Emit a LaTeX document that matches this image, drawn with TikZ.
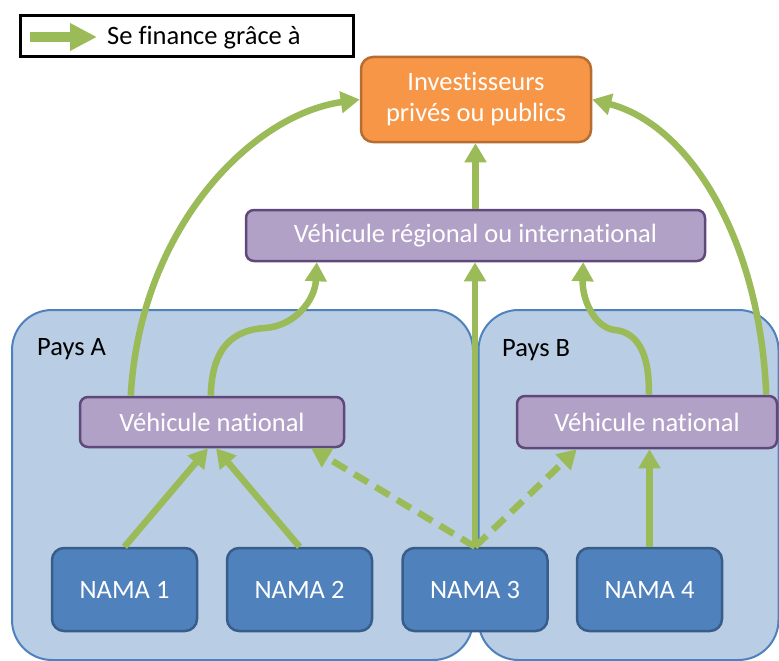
\documentclass[tikz,border=0pt]{standalone}
\usepackage{fontspec}
\setmainfont[Ligatures=CommonOff]{Carlito}
\usetikzlibrary{arrows.meta,calc}

\definecolor{flowgreen}{HTML}{9BBB59}
\definecolor{investfill}{HTML}{F79646}
\definecolor{investline}{HTML}{B66D31}
\definecolor{vehfill}{HTML}{B2A1C7}
\definecolor{vehline}{HTML}{5F497A}
\definecolor{namafill}{HTML}{4F81BD}
\definecolor{namaline}{HTML}{385D8A}
\definecolor{paysfill}{HTML}{B9CDE5}
\definecolor{paysline}{HTML}{4F81BD}

\tikzset{
  labelfont/.style={font=\fontsize{26.5}{31}\selectfont},
  box/.style={labelfont, text=white, inner sep=0pt, align=center, line width=2.5pt},
  investbox/.style={box, fill=investfill, draw=investline, rounded corners=12pt,
    minimum width=230pt, minimum height=85pt},
  vehbox/.style={box, fill=vehfill, draw=vehline, rounded corners=8pt, minimum height=51pt},
  namabox/.style={box, fill=namafill, draw=namaline, rounded corners=12pt,
    minimum width=145pt, minimum height=83pt},
  country/.style={fill=paysfill, draw=paysline, line width=2pt, rounded corners=40pt},
  flow/.style={draw=flowgreen, line width=6.5pt,
    -{Triangle[width=21pt,length=19pt]}, fill=none},
  optflow/.style={flow, dash pattern=on 16pt off 9pt},
  legarrow/.style={draw=flowgreen, line width=10pt,
    -{Triangle[width=26pt,length=27pt]}},
}

\begin{document}
\begin{tikzpicture}[x=1pt,y=-1pt]
  \useasboundingbox (0,0) rectangle (779,661);

  % countries
  \draw[country] (12,310) rectangle (473,660);
  \draw[country] (478.5,310) rectangle (778.5,660);
  \node[labelfont, anchor=base west, inner sep=0pt] (paysA) at (37,355) {Pays A};
  \node[labelfont, anchor=base west, inner sep=0pt] (paysB) at (502,356) {Pays B};

  % legend
  \node[draw=black, line width=3pt, minimum width=333.5pt, minimum height=41pt,
        inner sep=0pt] (legend) at (186.75,36) {};
  \coordinate (legtail) at (30,37);
  \coordinate (legtip) at (97,37);
  \draw[legarrow] (legtail) -- (legtip);
  \node[labelfont, anchor=base west, inner sep=0pt] (legtext) at (107,45) {Se finance grâce à};

  % boxes
  \node[investbox] (inv) at (476,99.5) {Investisseurs\\privés ou publics};
  \node[vehbox, minimum width=459pt] (reg) at (475.5,235.5) {Véhicule régional ou international};
  \node[vehbox, minimum width=264pt, minimum height=50pt] (vnA) at (212,422) {Véhicule national};
  \node[vehbox, minimum width=260pt, minimum height=52pt] (vnB) at (647,422) {Véhicule national};
  \node[namabox] (nama1) at (124.5,589.5) {NAMA 1};
  \node[namabox] (nama2) at (299.5,589.5) {NAMA 2};
  \node[namabox] (nama3) at (475,589.5) {NAMA 3};
  \node[namabox] (nama4) at (649.5,589.5) {NAMA 4};

  % bend points of the S-shaped connectors
  \coordinate (bendA) at (265,328);
  \coordinate (bendB) at (615,330);

  % financing flows
  \draw[flow] (nama1.north) -- ($(vnA.south)+(-4,0)$);
  \draw[flow] (nama2.north) -- ($(vnA.south)+(4,0)$);
  \draw[optflow] (nama3.north) -- ($(vnA.south east)+(-34,0)$);
  \draw[optflow] (nama3.north) -- ($(vnB.south west)+(61,0)$);
  \draw[flow] (nama3.north) -- (nama3.north |- reg.south);
  \draw[flow] (nama4.north) -- (nama4.north |- vnB.south);
  \draw[flow] (reg.north) -- (reg.north |- inv.south);

  \draw[flow] ($(vnA.north west)+(52,0)$) .. controls (140,230) and (250,115) .. (inv.west);
  \draw[flow] ($(vnA.north west)+(132,0)$) .. controls (212,345) and (235,330) .. (bendA)
              .. controls (295,326) and (315,300) .. ($(reg.south west)+(72,0)$);
  \draw[flow] ($(vnB.north west)+(133,0)$) .. controls (650,350) and (635,332) .. (bendB)
              .. controls (595,328) and (582,300) .. ($(reg.south east)+(-123,0)$);
  \draw[flow] ($(vnB.north east)+(-12,0)$) .. controls (760,240) and (690,125) .. (inv.east);
\end{tikzpicture}
\end{document}
